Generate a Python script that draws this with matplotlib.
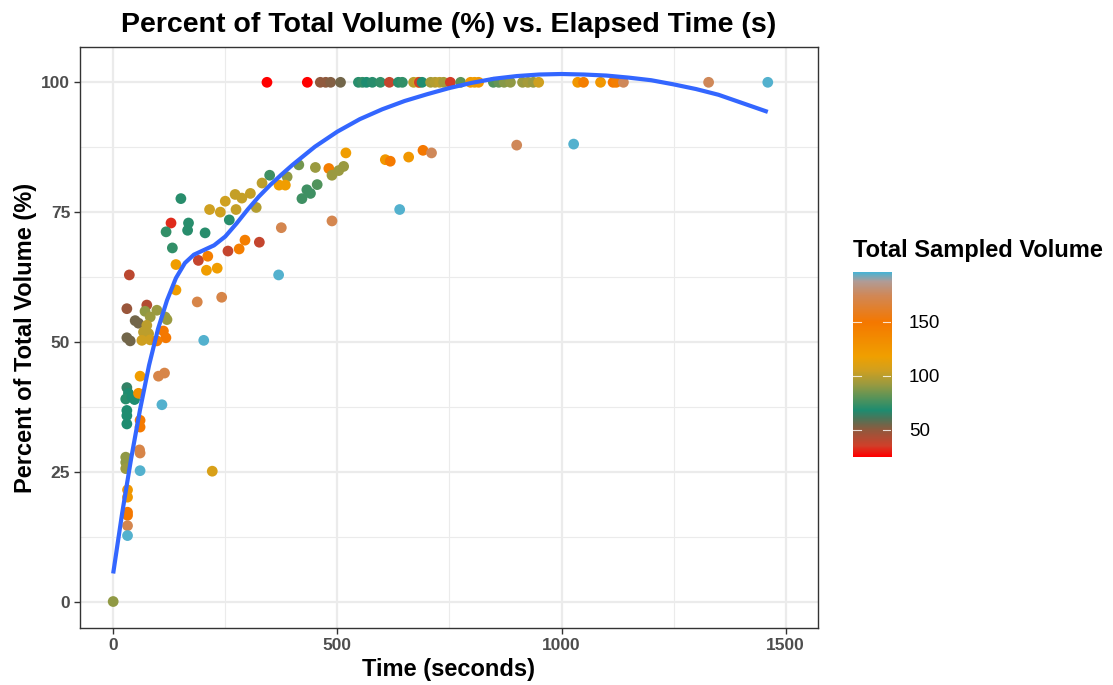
import numpy as np
import matplotlib
matplotlib.use("Agg")
import matplotlib.pyplot as plt
from matplotlib.colors import LinearSegmentedColormap, Normalize

plt.rcParams['font.family'] = ['Liberation Sans', 'DejaVu Sans']

# ---- data ----
top_time = [343, 433, 462, 474, 485, 507, 547, 556, 565, 578, 596, 616, 636, 645, 670, 680, 683, 689,
            708, 718, 728, 737, 752, 775, 797, 806, 815, 848, 860, 872, 886, 913, 925, 937, 949,
            1036, 1049, 1087, 1115, 1122, 1138, 1328, 1460]
top_vol = [25, 25, 50, 50, 52, 55, 70, 72, 68, 70, 72, 38, 70, 72, 100, 105, 35, 68,
           95, 98, 100, 95, 35, 80, 125, 120, 125, 78, 82, 88, 90, 92, 95, 92, 105,
           125, 145, 125, 150, 145, 175, 175, 195]

other_time = [519, 414, 451, 481, 488, 503, 514, 349, 388, 370, 384, 332, 306, 272, 287, 250, 215, 239,
              274, 319, 259, 421, 432, 440, 455, 375, 488, 639, 369, 151, 129, 168, 166, 118, 205, 132,
              190, 211, 256, 281, 294, 326, 140, 208, 232, 140, 187.5, 242, 202, 36,
              607, 618, 659, 691, 710, 900, 1027,
              30.5, 75, 71, 97.5, 82.6, 116, 120, 49, 56.5, 75, 67.6, 79, 30.5, 38, 64, 82.6, 112,
              117.6, 97.5, 60, 101, 114.5,
              30.5, 34, 28, 41.7, 47.6, 56.5, 30.5, 30.5, 30.5, 60, 60, 108.7, 58.8, 60, 28, 28, 28,
              60, 32, 32, 32, 32, 32, 32, 0, 221]
other_pct = [86.4, 84.1, 83.6, 83.4, 82.1, 83.0, 83.8, 82.1, 81.8, 80.2, 80.2, 80.6, 78.6, 78.4, 77.7,
             77.1, 75.5, 75.0, 75.5, 75.9, 73.5, 77.6, 79.3, 78.6, 80.3, 72.0, 73.3, 75.5, 62.9, 77.6,
             72.9, 72.9, 71.5, 71.2, 71.0, 68.1, 65.7, 66.5, 67.5, 67.9, 69.6, 69.2, 64.9, 63.8, 64.2,
             60.0, 57.7, 58.6, 50.3, 62.9,
             85.1, 84.8, 85.6, 86.9, 86.4, 87.9, 88.1,
             56.4, 57.1, 55.9, 56.1, 54.8, 54.8, 54.3, 54.1, 53.6, 53.2, 51.9, 51.6, 50.8, 50.2, 50.3,
             50.4, 52.1, 50.8, 50.2, 43.4, 43.4, 44.0,
             41.2, 40.1, 39.0, 39.4, 38.9, 40.1, 36.8, 35.8, 34.2, 34.9, 33.6, 37.9, 29.2, 28.6, 27.8,
             26.8, 25.6, 25.2, 21.5, 20.1, 17.2, 16.6, 14.6, 12.7, 0.0, 25.1]
other_vol = [120, 85, 92, 145, 92, 92, 92, 75, 90, 120, 120, 100, 102, 102, 102, 105, 105, 105,
             102, 98, 70, 75, 75, 75, 78, 172, 172, 195, 195, 70, 32, 70, 70, 72, 70, 72,
             38, 145, 38, 145, 145, 38, 120, 120, 120, 120, 170, 170, 195, 40,
             125, 148, 125, 150, 175, 175, 195,
             48, 42, 90, 92, 92, 92, 92, 55, 55, 100, 100, 100, 55, 55, 105, 105, 150,
             150, 145, 120, 170, 170,
             65, 68, 70, 68, 68, 130, 68, 68, 68, 148, 148, 195, 170, 170, 90, 90, 92,
             195, 125, 125, 150, 150, 172, 195, 90, 108]

smooth_time = [0, 20, 40, 60, 80, 100, 120, 140, 160, 180, 200, 225, 250, 275, 300, 325, 350, 375,
               400, 450, 500, 550, 600, 650, 700, 750, 800, 850, 900, 950, 1000, 1050, 1100, 1150,
               1200, 1250, 1300, 1350, 1400, 1460]
smooth_pct = [5.4, 17.0, 27.5, 37.0, 45.5, 52.5, 58.0, 62.3, 65.2, 66.8, 67.6, 68.6, 70.3, 72.8,
              75.5, 78.0, 80.2, 82.2, 84.1, 87.6, 90.5, 92.9, 94.8, 96.4, 97.7, 98.9, 99.9, 100.7,
              101.2, 101.5, 101.6, 101.5, 101.3, 100.9, 100.4, 99.6, 98.7, 97.6, 96.1, 94.3]

# colour scale stops (value, colour)
scale_vals = [25, 35, 50, 60, 68, 80, 92, 105, 118, 150, 175, 188, 196]
scale_cols = ["#FF0000", "#D0402A", "#8F5A3E", "#4E7458", "#1E8C70", "#5A9458", "#9A9A40",
              "#D0A020", "#F0A000", "#F57800", "#D08858", "#B09C98", "#4BB3D3"]
vmin, vmax = scale_vals[0], scale_vals[-1]

# ---- figure ----
W, H = 1113, 685
fig = plt.figure(figsize=(W / 100, H / 100), dpi=100)
ax = fig.add_axes([80 / W, 1 - 628 / H, (818 - 80) / W, (628 - 47) / H])

cmap = LinearSegmentedColormap.from_list(
    "vol", [((v - vmin) / (vmax - vmin), c) for v, c in zip(scale_vals, scale_cols)])
norm = Normalize(vmin=vmin, vmax=vmax)

times = list(top_time) + list(other_time)
pcts = [100.0] * len(top_time) + list(other_pct)
vols = list(top_vol) + list(other_vol)

ax.scatter(times, pcts, c=vols, cmap=cmap, norm=norm, s=60, linewidths=0, zorder=3)
ax.plot(smooth_time, smooth_pct, color="#3366FF", lw=3.0, zorder=4, solid_capstyle='butt')

ax.set_xlim(-74, 1572)
ax.set_ylim(-5.1, 106.8)
ax.set_xticks([0, 500, 1000, 1500])
ax.set_yticks([0, 25, 50, 75, 100])
ax.set_xticks([250, 750, 1250], minor=True)
ax.set_yticks([12.5, 37.5, 62.5, 87.5], minor=True)
ax.grid(True, which='major', color='#EBEBEB', lw=1.6, zorder=0)
ax.grid(True, which='minor', color='#EBEBEB', lw=0.8, zorder=0)
ax.set_axisbelow(True)
for sp in ax.spines.values():
    sp.set_color('#333333')
    sp.set_linewidth(1.0)
ax.tick_params(which='major', length=4, color='#333333', width=1.0, labelsize=12.5,
               labelcolor='#4D4D4D', pad=3)
ax.tick_params(which='minor', length=0)
for lab in ax.get_xticklabels() + ax.get_yticklabels():
    lab.set_fontweight('bold')

ax.set_xlabel("Time (seconds)", fontsize=17, fontweight='bold', labelpad=4)
ax.set_ylabel("Percent of Total Volume (%)", fontsize=17, fontweight='bold', labelpad=3)
ax.set_title("Percent of Total Volume (%) vs. Elapsed Time (s)", fontsize=20.5,
             fontweight='bold', pad=11)

# colorbar
cax = fig.add_axes([853 / W, 1 - 457 / H, (891 - 853) / W, (457 - 272) / H])
grad = np.linspace(vmin, vmax, 400).reshape(-1, 1)
cax.imshow(grad, aspect='auto', cmap=cmap, norm=norm, origin='lower',
           extent=[0, 1, vmin, vmax])
cax.set_xlim(0, 1)
cax.set_ylim(vmin, vmax)
cax.set_xticks([])
cax.yaxis.tick_right()
cax.set_yticks([50, 100, 150])
cax.tick_params(axis='y', length=0, labelsize=13.5, pad=13, labelcolor='black')
for sp in cax.spines.values():
    sp.set_visible(False)
for v in [50, 100, 150]:
    cax.plot([0, 0.2], [v, v], color='white', lw=0.8, alpha=0.8)
    cax.plot([0.8, 1.0], [v, v], color='white', lw=0.8, alpha=0.8)
fig.text(853 / W, 1 - 250 / H, "Total Sampled Volume", fontsize=17, fontweight='bold',
         ha='left', va='center')

fig.savefig("out.png", dpi=100)
